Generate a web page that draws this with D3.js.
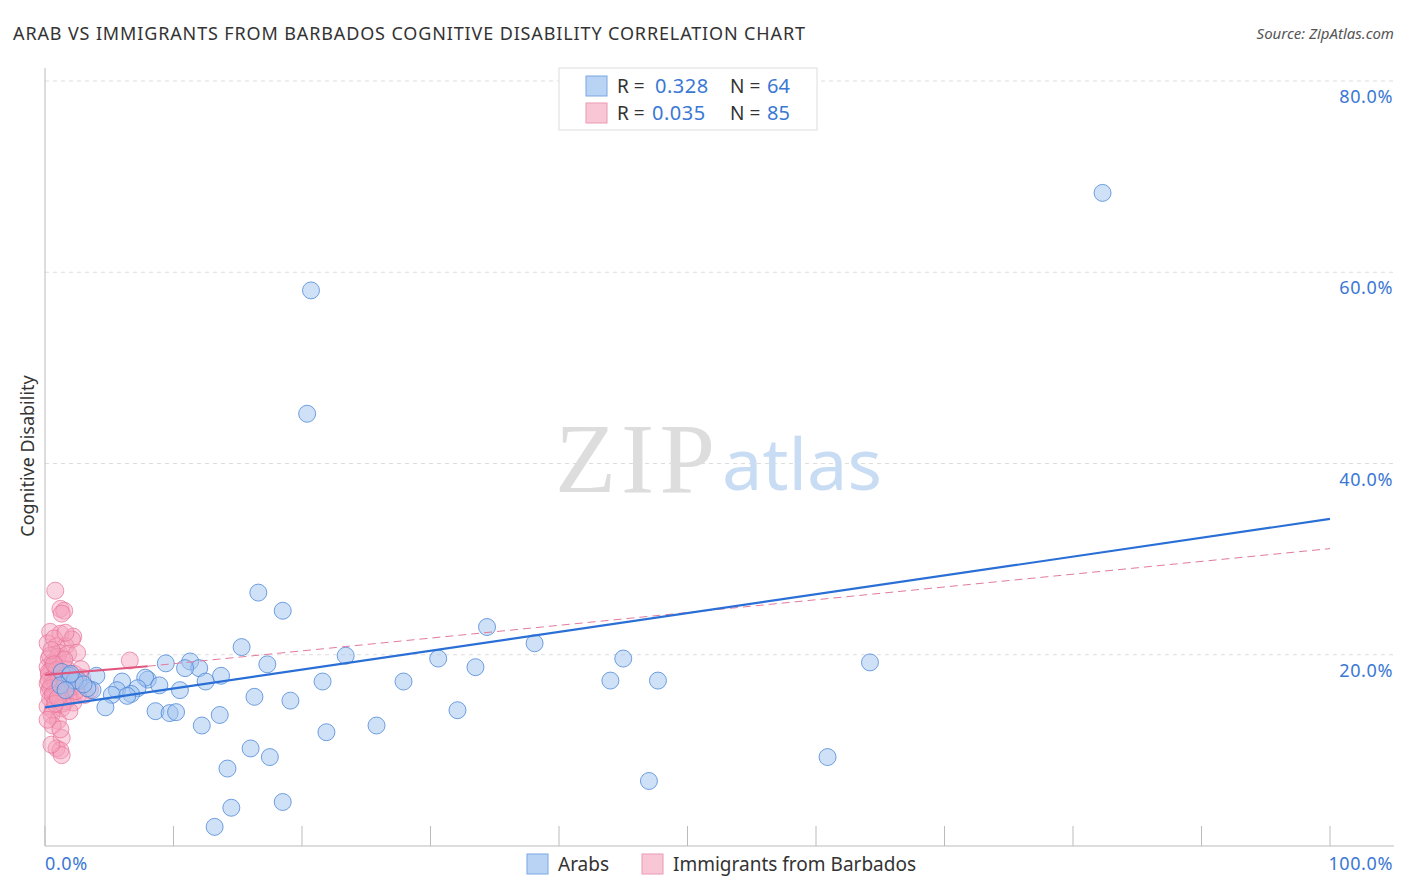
<!DOCTYPE html>
<html><head><meta charset="utf-8">
<script src="https://cdnjs.cloudflare.com/ajax/libs/d3/7.8.5/d3.min.js"></script>
<style>body{margin:0;background:#fff;font-family:"Noto Sans",sans-serif;}</style>
</head><body>
<script>
// Arabs: [x%, y%]
var arabs = [[82.3,68.3],[20.7,58.1],[20.4,45.2],[16.6,26.5],[18.5,24.6],[34.4,22.9],[15.3,20.8],[38.1,21.2],
[23.4,19.9],[30.6,19.6],[45.0,19.6],[64.2,19.2],[17.3,19.0],[33.5,18.7],[9.4,19.1],[11.3,19.3],[12.0,18.6],
[10.9,18.6],[13.7,17.8],[12.5,17.2],[21.6,17.2],[27.9,17.2],[44.0,17.3],[47.7,17.3],[8.0,17.4],[7.8,17.6],
[6.0,17.2],[4.0,17.8],[2.6,17.3],[8.9,16.8],[10.5,16.3],[7.2,16.5],[5.6,16.3],[3.7,16.3],[3.3,16.5],[5.2,15.8],
[6.7,15.9],[6.4,15.7],[16.3,15.6],[19.1,15.2],[4.7,14.5],[8.6,14.1],[9.7,13.9],[10.2,14.0],[13.6,13.7],[32.1,14.2],
[12.2,12.6],[25.8,12.6],[21.9,11.9],[16.0,10.2],[17.5,9.3],[60.9,9.3],[14.2,8.1],[47.0,6.8],[14.5,4.0],[18.5,4.6],
[13.2,2.0],[1.3,18.2],[1.9,17.8],[1.2,16.8],[2.3,17.3],[1.6,16.3],[3.0,16.9],[2.0,18.0]];
// Immigrants from Barbados
var barbados = [[0.8,26.7],[1.2,24.8],[1.5,24.6],[1.3,24.3],[0.4,22.4],[1.2,22.2],[2.2,21.9],[0.2,21.2],[0.9,20.9],
[1.6,20.9],[2.1,21.6],[1.1,20.2],[6.6,19.4],[0.3,19.6],[0.6,19.2],[1.0,19.8],[1.4,19.0],[0.2,18.7],[0.5,18.4],
[0.8,18.8],[1.2,18.2],[1.7,18.5],[2.3,18.0],[0.3,17.9],[0.6,17.5],[0.9,17.8],[1.3,17.2],[1.8,17.6],[2.4,17.4],
[0.2,17.0],[0.5,16.8],[0.8,17.1],[1.1,16.5],[1.5,16.9],[2.0,16.6],[2.7,16.8],[0.3,16.2],[0.7,16.0],[1.0,16.4],
[1.4,15.9],[1.9,15.6],[2.6,15.8],[0.4,15.4],[0.8,15.2],[1.2,15.6],[1.6,15.1],[2.2,15.0],[0.2,14.6],[0.6,14.2],
[1.3,14.4],[0.5,13.7],[1.0,13.1],[0.6,12.6],[1.3,11.3],[0.9,10.2],[1.2,10.0],[1.3,9.5],[0.5,10.6],[3.1,15.8],
[3.5,16.3],[2.9,17.6],[0.4,19.9],[1.8,20.1],[2.5,20.2],[0.7,21.7],[1.5,19.5],[0.3,18.2],[0.9,18.4],[1.1,17.5],
[0.4,16.5],[1.7,16.2],[2.1,17.1],[0.6,15.8],[1.4,14.9],[0.2,13.2],[1.9,14.1],[0.8,14.9],[2.8,18.5],[0.5,20.5],
[1.6,22.3],[0.3,17.3],[1.0,15.5],[2.4,16.2],[0.7,19.0],[1.2,12.2]];
var blueTrend = [[0,14.5],[100,34.2]];
var pinkTrend = [[0,17.9],[8,18.8]];
var pinkDash = [[8,18.8],[100,31.1]];
var yTicks = [20,40,60,80];
var xTicks = [0,10,20,30,40,50,60,70,80,90,100];

var W = 1406, H = 892;
var svg = d3.select("body").append("svg").attr("width", W).attr("height", H);
var x = d3.scaleLinear().domain([0,100]).range([45,1330]);
var y = d3.scaleLinear().domain([0,80]).range([846,81]);

svg.append("text").attr("x",13).attr("y",40).attr("font-size",18).attr("fill","#333")
  .attr("textLength",792).attr("lengthAdjust","spacing")
  .text("ARAB VS IMMIGRANTS FROM BARBADOS COGNITIVE DISABILITY CORRELATION CHART");
svg.append("text").attr("x",1394).attr("y",39).attr("text-anchor","end").attr("font-size",15)
  .attr("font-style","italic").attr("fill","#555").text("Source: ZipAtlas.com");

svg.selectAll(".grid").data(yTicks).join("line")
  .attr("x1",45).attr("x2",1394).attr("y1",d=>y(d)).attr("y2",d=>y(d))
  .attr("stroke","#ddd").attr("stroke-dasharray","4,4");
svg.selectAll(".ylab").data(yTicks).join("text")
  .attr("x",1393).attr("y",d=>y(d)+22).attr("text-anchor","end").attr("font-size",18).attr("fill","#3a78d4")
  .attr("letter-spacing",0.6).text(d=>d.toFixed(1)+"%");
svg.append("line").attr("x1",45).attr("x2",45).attr("y1",68).attr("y2",846).attr("stroke","#bbb");
svg.append("line").attr("x1",45).attr("x2",1394).attr("y1",846).attr("y2",846).attr("stroke","#bbb");
svg.selectAll(".xt").data(xTicks).join("line")
  .attr("x1",d=>x(d)).attr("x2",d=>x(d)).attr("y1",826).attr("y2",846).attr("stroke","#bbb");
svg.append("text").attr("x",45).attr("y",870).attr("font-size",18).attr("fill","#3a78d4").attr("letter-spacing",0.6).text("0.0%");
svg.append("text").attr("x",1393).attr("y",870).attr("text-anchor","end").attr("font-size",18).attr("fill","#3a78d4").attr("letter-spacing",0.6).text("100.0%");
svg.append("text").attr("transform","translate(34,456) rotate(-90)").attr("text-anchor","middle")
  .attr("font-size",18).attr("fill","#333").text("Cognitive Disability");

// watermark
svg.append("text").attr("x",635).attr("y",492).attr("text-anchor","middle").attr("font-family","Liberation Serif,serif")
  .attr("font-size",100).attr("fill","#ddd").attr("textLength",160).text("ZIP");
svg.append("text").attr("x",802).attr("y",490).attr("text-anchor","middle")
  .attr("font-size",72).attr("fill","#c8dcf3").text("atlas");

var line = d3.line().x(d=>x(d[0])).y(d=>y(d[1]));
svg.selectAll(".pp").data(barbados).join("circle")
  .attr("cx",d=>x(d[0])).attr("cy",d=>y(d[1])).attr("r",8.5)
  .attr("fill","rgba(244,160,186,0.45)").attr("stroke","rgba(232,112,152,0.7)");
svg.selectAll(".bp").data(arabs).join("circle")
  .attr("cx",d=>x(d[0])).attr("cy",d=>y(d[1])).attr("r",8.5)
  .attr("fill","rgba(160,196,240,0.5)").attr("stroke","rgba(70,130,215,0.75)");
svg.append("path").attr("d",line(pinkDash)).attr("stroke","#e27a9c").attr("stroke-width",1).attr("stroke-dasharray","8,5").attr("fill","none");
svg.append("path").attr("d",line(blueTrend)).attr("stroke","#2a6fd6").attr("stroke-width",2.2).attr("fill","none");
svg.append("path").attr("d",line(pinkTrend)).attr("stroke","#e0567f").attr("stroke-width",2.2).attr("fill","none");

// top legend
var lg = svg.append("g");
lg.append("rect").attr("x",559).attr("y",68).attr("width",258).attr("height",62).attr("fill","#fff").attr("stroke","#ddd");
var rows = [{c:"#b9d3f5",s:"#7ba7e0",r:"0.328",n:"64",y:86,rx:655},{c:"#f9c6d5",s:"#ea9ab4",r:"0.035",n:"85",y:113,rx:652}];
rows.forEach(function(d){
  lg.append("rect").attr("x",586).attr("y",d.y-10).attr("width",21).attr("height",20).attr("fill",d.c).attr("stroke",d.s);
  lg.append("text").attr("x",617).attr("y",d.y+7).attr("font-size",19).attr("fill","#333").text("R =");
  lg.append("text").attr("x",d.rx).attr("y",d.y+7).attr("font-size",20).attr("fill","#3a78d4").attr("letter-spacing",0.5).text(d.r);
  lg.append("text").attr("x",730).attr("y",d.y+7).attr("font-size",19).attr("fill","#333").text("N =");
  lg.append("text").attr("x",767).attr("y",d.y+7).attr("font-size",20).attr("fill","#3a78d4").text(d.n);
});
// bottom legend
[{x:527,c:"#b9d3f5",s:"#7ba7e0",t:"Arabs"},{x:642,c:"#f9c6d5",s:"#ea9ab4",t:"Immigrants from Barbados"}].forEach(function(d){
  svg.append("rect").attr("x",d.x).attr("y",854).attr("width",21).attr("height",20).attr("fill",d.c).attr("stroke",d.s);
  svg.append("text").attr("x",d.x+31).attr("y",871).attr("font-size",19).attr("fill","#333").text(d.t);
});
</script>
</body></html>
